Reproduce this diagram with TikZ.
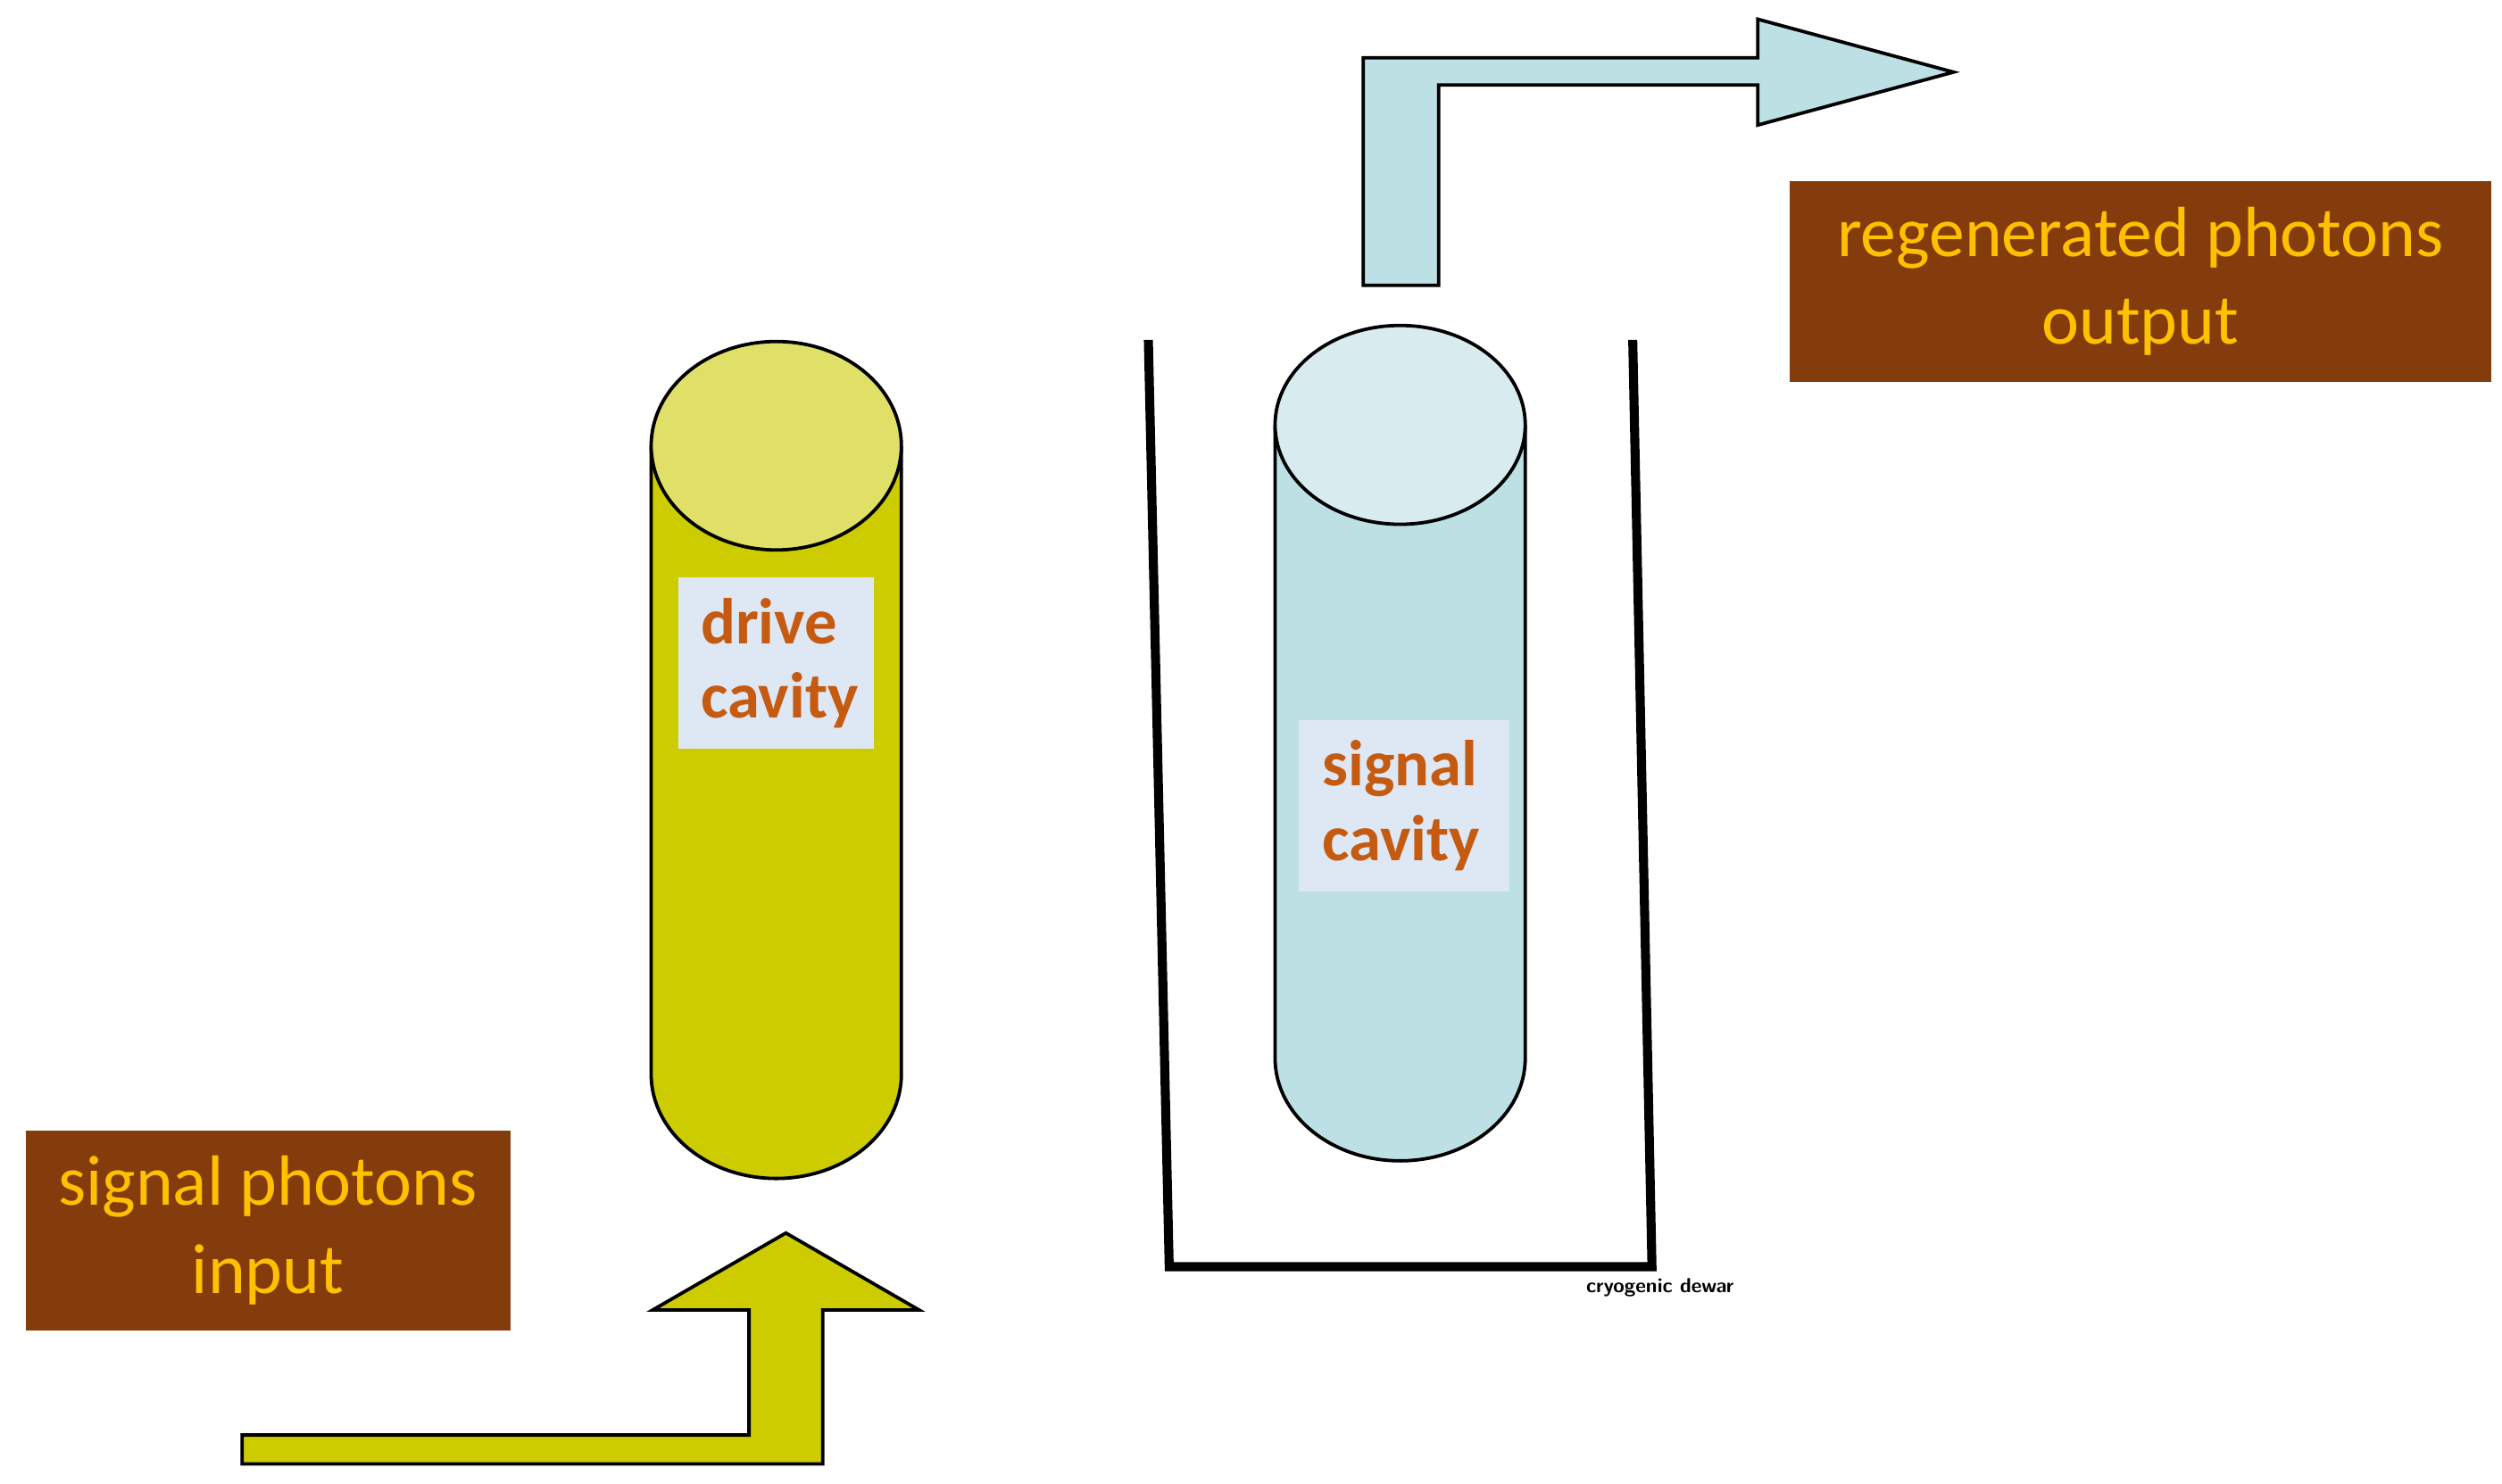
\documentclass[tikz,border=0pt]{standalone}
\usepackage{fontspec}
\setmainfont{Carlito}
\begin{document}
\begin{tikzpicture}[x=0.01cm,y=-0.01cm,
  brownbox/.style={fill=brown1,text=gold,align=center,inner sep=0pt,font=\fontsize{12.6}{15.6}\selectfont},
  lab/.style={fill=labbg,text=orng,align=left,inner sep=0pt,font=\fontsize{11.5}{13.2}\selectfont\bfseries},
  outl/.style={draw=black,line width=0.6pt}]
\definecolor{brown1}{HTML}{843C0C}
\definecolor{gold}{HTML}{FFC000}
\definecolor{labbg}{HTML}{DDE8F4}
\definecolor{orng}{HTML}{C55A11}
\definecolor{olive1}{HTML}{CCCC00}
\definecolor{olive2}{HTML}{E0E068}
\definecolor{cyan1}{HTML}{BCE0E4}
\definecolor{cyan2}{HTML}{D8ECEF}
\useasboundingbox (0,0) rectangle (1560,925.5);
% drive cavity
\fill[olive1] (406,278) -- (406,670) arc[start angle=180,end angle=0,x radius=78,y radius=65] -- (562,278) -- cycle;
\draw[outl] (406,278) -- (406,670) arc[start angle=180,end angle=0,x radius=78,y radius=65] -- (562,278);
\draw[outl,fill=olive2] (484,278) ellipse[x radius=78,y radius=65];
\node[lab,minimum width=1.22cm,minimum height=1.07cm,text width=0.94cm] (dl) at (484,413.5) {drive\\cavity};
% signal cavity
\fill[cyan1] (795,265) -- (795,660) arc[start angle=180,end angle=0,x radius=78,y radius=64] -- (951,265) -- cycle;
\draw[outl] (795,265) -- (795,660) arc[start angle=180,end angle=0,x radius=78,y radius=64] -- (951,265);
\draw[outl,fill=cyan2] (873,265) ellipse[x radius=78,y radius=62];
\node[lab,minimum width=1.31cm,minimum height=1.07cm,text width=1.02cm] (sl) at (875.5,502.5) {signal\\cavity};
% dewar
\draw[line width=1.6pt] (716,212) -- (729,790) -- (1030,790) -- (1018,212);
\node[font=\sffamily\bfseries\fontsize{3.6}{4}\selectfont,anchor=center] (cd) at (1035,803) {cryogenic dewar};
% arrows
\draw[outl,fill=cyan1] (850,178) -- (850,36) -- (1096,36) -- (1096,12) -- (1218,45) -- (1096,78) -- (1096,53) -- (897,53) -- (897,178) -- cycle;
\draw[outl,fill=olive1] (151,913) -- (151,895) -- (467,895) -- (467,817) -- (407,817) -- (490,769) -- (573,817) -- (513,817) -- (513,913) -- cycle;
% boxes
\node[brownbox,minimum width=3.02cm,minimum height=1.25cm] (in) at (167,767.5) {signal photons\\input};
\node[brownbox,minimum width=4.37cm,minimum height=1.25cm] (out) at (1334.5,175.5) {regenerated photons\\output};
\end{tikzpicture}
\end{document}
